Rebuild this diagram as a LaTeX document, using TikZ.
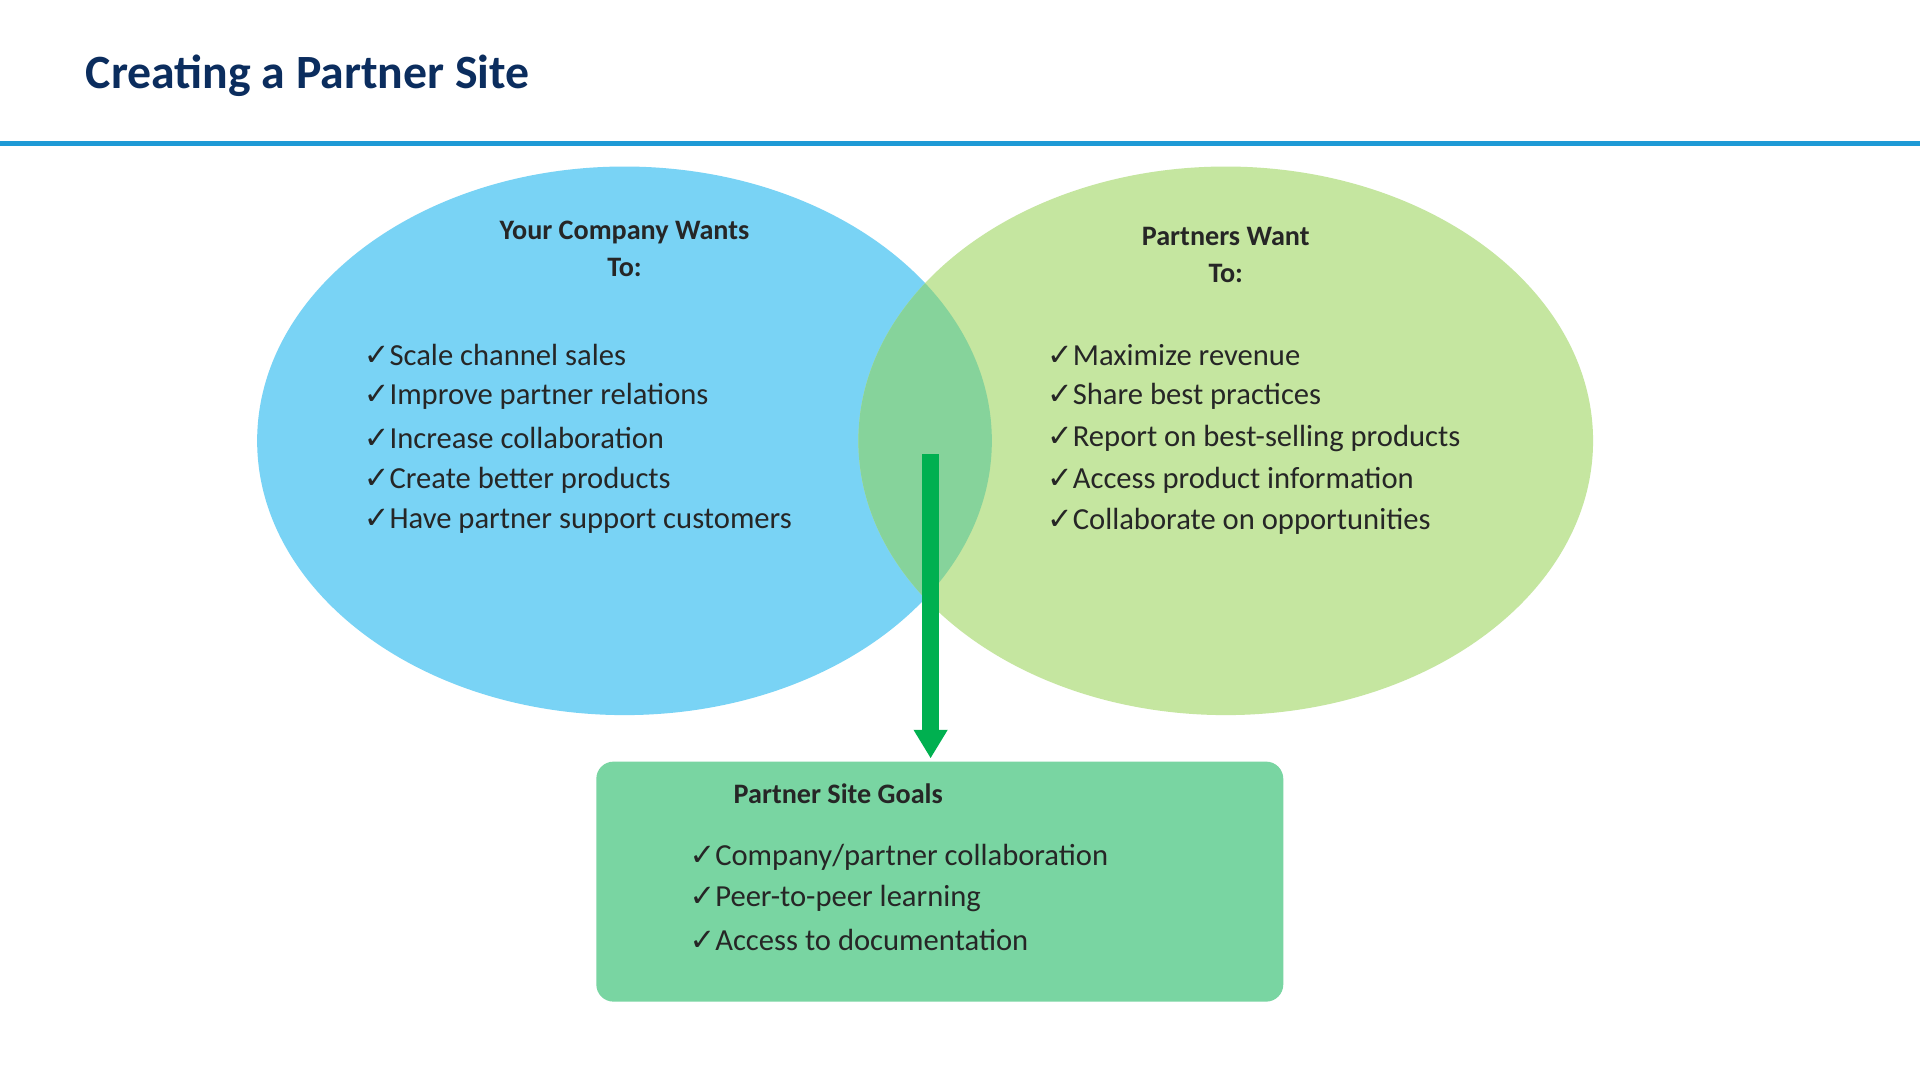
\documentclass[tikz,border=0pt]{standalone}
\usepackage{fontspec}
\setmainfont{Carlito}
\newfontfamily\chk{DejaVu Sans}
\definecolor{navy}{HTML}{0B2D5E}
\definecolor{rule}{HTML}{1E9AD6}
\definecolor{lblue}{HTML}{79D3F5}
\definecolor{lgreen}{HTML}{C5E6A0}
\definecolor{ovl}{HTML}{86D39B}
\definecolor{arr}{HTML}{00B050}
\definecolor{boxc}{HTML}{79D5A2}
\definecolor{txt}{HTML}{262626}
\newcommand{\ck}{{\chk\bfseries ✓}}
\begin{document}
\begin{tikzpicture}[x=1pt,y=-1pt,
  item/.style={anchor=west,inner sep=0pt,text=txt,font=\fontsize{25}{30}\selectfont},
  head/.style={align=center,inner sep=0pt,text=txt,font=\fontsize{23}{30}\selectfont\bfseries}]
\useasboundingbox (0,0) rectangle (1568,882);
\fill[white] (0,0) rectangle (1568,882);
\node[anchor=west,inner sep=0pt,text=navy,font=\fontsize{39}{46}\selectfont\bfseries] (title) at (70,62) {Creating a Partner Site};
\coordinate (r1) at (0,117); \coordinate (r2) at (1568,117);
\draw[rule,line width=4pt] (r1) -- (r2);
\fill[lblue] (510,360) ellipse [x radius=300,y radius=224];
\fill[lgreen] (1001,360) ellipse [x radius=300,y radius=224];
\begin{scope}
\clip (510,360) ellipse [x radius=300,y radius=224];
\fill[ovl] (1001,360) ellipse [x radius=300,y radius=224];
\end{scope}
\node[head] (h1) at (510,203) {Your Company Wants\\To:};
\node[head] (h2) at (1001,208) {Partners Want\\To:};
\foreach \t [count=\i] in {Scale channel sales,Improve partner relations,Increase collaboration,Create better products,Have partner support customers}
  \node[item] (l\i) at (297,{256+34*\i}) {\ck\t};
\foreach \t [count=\i] in {Maximize revenue,Share best practices,Report on best-selling products,Access product information,Collaborate on opportunities}
  \node[item] (r\i) at (855,{256+34*\i}) {\ck\t};
\node[fill=boxc,rounded corners=14pt,minimum width=561,minimum height=196,inner sep=0pt] (box) at (767.5,720) {};
\node[anchor=west,inner sep=0pt,text=txt,font=\fontsize{23}{30}\selectfont\bfseries] (bt) at (599,648) {Partner Site Goals};
\foreach \t [count=\i] in {Company/partner collaboration,Peer-to-peer learning,Access to documentation}
  \node[item] (b\i) at (563,{666+34*\i}) {\ck\t};
\coordinate (a1) at (760,371);
\fill[arr] (753,371) rectangle (767,596);
\fill[arr] (746,596) -- (774,596) -- (760,619) -- cycle;
\end{tikzpicture}
\end{document}
